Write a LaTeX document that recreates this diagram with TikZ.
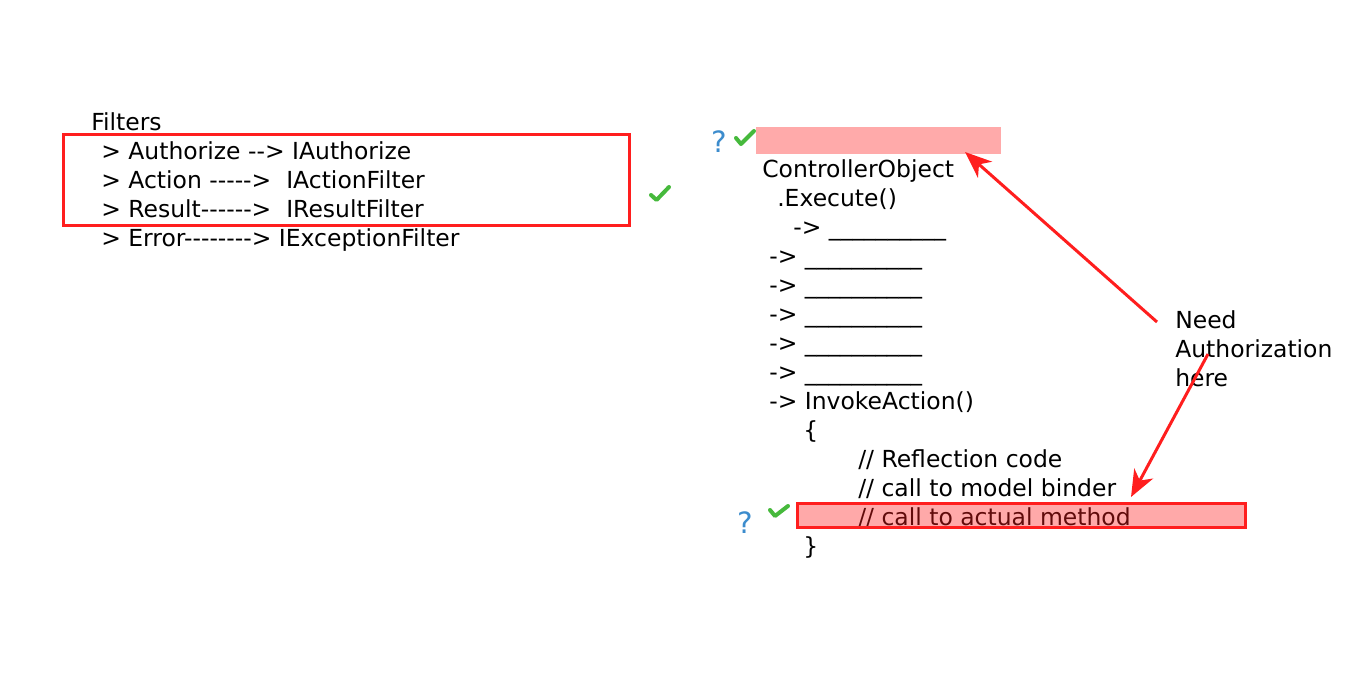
\documentclass[tikz,border=0pt]{standalone}
\usepackage{fontspec}
\newfontfamily\codefont{DejaVu Sans}[Ligatures=TeXOff]
\usepackage{tikz}
\usetikzlibrary{arrows.meta}
\pgfdeclarelayer{bg}
\pgfsetlayers{bg,main}
\definecolor{markred}{RGB}{255,30,30}
\definecolor{markpink}{RGB}{255,170,170}
\definecolor{okgreen}{RGB}{70,185,60}
\definecolor{askblue}{RGB}{60,140,205}

\tikzset{
  codeline/.style={anchor=base west, inner sep=0pt, font=\codefont\fontsize{17.6}{21.75}\selectfont},
  ask/.style={anchor=base west, inner sep=0pt, text=askblue, font=\codefont\fontsize{22}{26}\selectfont},
  tick/.style={draw=okgreen, line width=3pt, line cap=round, line join=round},
  callout/.style={draw=markred, line width=2.25pt, -{Stealth[length=20pt,width=16pt,inset=6pt]}}
}

\begin{document}
\begin{tikzpicture}[x=0.75pt, y=-0.75pt]
    \useasboundingbox (0,0) rectangle (1366,697);

    % filter list
    \node [codeline] (filters) at (91,130) {Filters};
    \node [codeline] (authf) at (101,159) {> Authorize --> IAuthorize};
    \node [codeline] (actf) at (101,188) {> Action ----->\ \ IActionFilter};
    \node [codeline] (resf) at (101,217) {> Result------>\ \ IResultFilter};
    \node [codeline] (errf) at (101,246) {> Error--------> IExceptionFilter};
    \draw [markred, line width=2.25pt] (63,134) rectangle (629,225);
    \draw [tick] (651,195) -- (656.5,200) -- (669,187);

    % pipeline
    \begin{pgfonlayer}{bg}    % pink mark behind the code
        \fill [markpink] (756,127) rectangle (1001,154);
    \end{pgfonlayer}
    \node [ask] (ask1) at (711,152) {?};
    \draw [tick] (736,138) -- (741,144) -- (754,131);
    \node [codeline] (ctrl) at (762,177) {ControllerObject};
    \node [codeline] (exec) at (777,206) {.Execute()};
    \node [codeline] (step0) at (793,235) {-> \_\_\_\_\_\_\_\_\_\_};
    \node [codeline] (step1) at (769,264) {-> \_\_\_\_\_\_\_\_\_\_};
    \node [codeline] (step2) at (769,293) {-> \_\_\_\_\_\_\_\_\_\_};
    \node [codeline] (step3) at (769,322) {-> \_\_\_\_\_\_\_\_\_\_};
    \node [codeline] (step4) at (769,351) {-> \_\_\_\_\_\_\_\_\_\_};
    \node [codeline] (step5) at (769,380) {-> \_\_\_\_\_\_\_\_\_\_};
    \node [codeline] (invoke) at (769,409) {-> InvokeAction()};
    \node [codeline] (open) at (803,438) {\{};
    \node [codeline] (refl) at (858,467) {// Reflection code};
    \node [codeline] (binder) at (858,496) {// call to model binder};
    \node [codeline] (method) at (858,525) {// call to actual method};
    \node [codeline] (close) at (803,554) {\}};
    \fill [markred, fill opacity=0.38] (797,503) rectangle (1245,527);
    \draw [markred, line width=2.25pt] (797,503) rectangle (1245,527);
    \node [ask] (ask2) at (737,533) {?};
    \draw [tick] (770,510) -- (775,516) -- (788,506);

    % note
    \node [codeline, anchor=north west, align=left] (need) at (1175,310) {Need\\Authorization\\here};
    \coordinate (tail1) at (1157,322);
    \coordinate (tip1) at (965,152);
    \coordinate (tail2) at (1208,354);
    \coordinate (tip2) at (1131,497);
    \draw [callout] (tail1) -- (tip1);
    \draw [callout] (tail2) -- (tip2);
\end{tikzpicture}
\end{document}
